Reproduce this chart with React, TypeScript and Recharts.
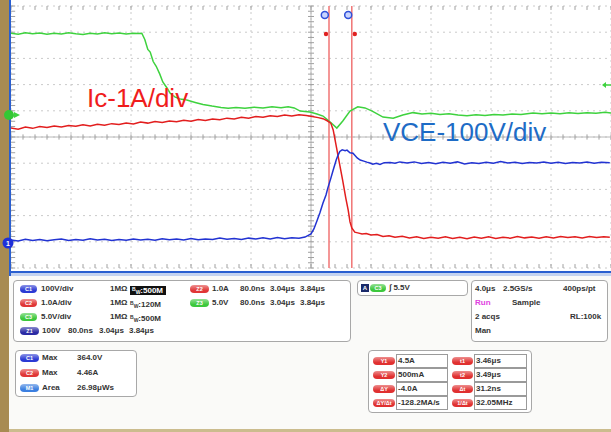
import React from "react";
import { LineChart, Line, XAxis, YAxis, CartesianGrid, ReferenceLine, ReferenceDot } from "recharts";

// screen is 10 x 10 divisions; traces are [time div, level div]
const divsX = [0, 1, 2, 3, 4, 5, 6, 7, 8, 9, 10];
const divsY = [-5, -4, -3, -2, -1, 0, 1, 2, 3, 4, 5];

const greenTrace = [
  [0, 3.96], [0.12, 3.92], [0.24, 3.98], [0.36, 3.94], [0.48, 3.97], [0.6, 3.92], [0.72, 3.96], [0.84, 3.93],
  [0.96, 3.98], [1.08, 3.94], [1.2, 3.91], [1.32, 3.96], [1.44, 3.93], [1.56, 3.98], [1.68, 3.94], [1.8, 3.97],
  [1.92, 3.93], [2.04, 3.96], [2.12, 3.95], [2.18, 3.96], [2.23, 3.72], [2.28, 3.34], [2.32, 3.24], [2.37, 2.88],
  [2.42, 2.7], [2.48, 2.4], [2.53, 2.1], [2.6, 1.87], [2.65, 1.68], [2.73, 1.53], [2.82, 1.45], [2.93, 1.41],
  [3.07, 1.32], [3.2, 1.24], [3.35, 1.18], [3.5, 1.13], [3.62, 1.1], [3.75, 1.13], [3.9, 1.1], [4.05, 1.14],
  [4.2, 1.11], [4.35, 1.15], [4.5, 1.12], [4.62, 1.15], [4.72, 1.11], [4.82, 0.99], [4.98, 0.95], [5.1, 0.88],
  [5.2, 0.8], [5.32, 0.57], [5.43, 0.34], [5.53, 0.61], [5.65, 0.99], [5.78, 1.15], [5.9, 1.11], [6.02, 0.99],
  [6.2, 0.76], [6.37, 0.72], [6.53, 0.84], [6.7, 0.93], [6.85, 0.88], [7.0, 0.91], [7.15, 0.86], [7.3, 0.89],
  [7.45, 0.84], [7.6, 0.81], [7.75, 0.85], [7.9, 0.82], [8.05, 0.86], [8.2, 0.84], [8.35, 0.88], [8.5, 0.86],
  [8.7, 0.92], [8.85, 0.89], [9.0, 0.92], [9.15, 0.89], [9.3, 0.93], [9.45, 0.9], [9.6, 0.93], [9.75, 0.91],
  [9.9, 0.94], [10, 0.92],
];

const redTrace = [
  [0, 0.34], [0.12, 0.3], [0.24, 0.38], [0.36, 0.33], [0.48, 0.4], [0.6, 0.36], [0.72, 0.42], [0.84, 0.38],
  [0.96, 0.44], [1.08, 0.41], [1.2, 0.47], [1.32, 0.42], [1.44, 0.49], [1.56, 0.45], [1.68, 0.51], [1.8, 0.48],
  [1.92, 0.53], [2.04, 0.5], [2.16, 0.57], [2.28, 0.53], [2.4, 0.59], [2.52, 0.55], [2.64, 0.61], [2.76, 0.58],
  [2.88, 0.64], [3.0, 0.6], [3.12, 0.67], [3.24, 0.63], [3.36, 0.69], [3.48, 0.66], [3.6, 0.72], [3.72, 0.69],
  [3.84, 0.75], [3.96, 0.72], [4.08, 0.78], [4.2, 0.75], [4.32, 0.81], [4.44, 0.78], [4.56, 0.84], [4.68, 0.8],
  [4.8, 0.85], [4.92, 0.82], [5.02, 0.78], [5.12, 0.74], [5.2, 0.7], [5.27, 0.62], [5.33, 0.53], [5.37, 0.27],
  [5.42, -0.34], [5.48, -1.07], [5.53, -1.68], [5.58, -2.33], [5.62, -2.79], [5.65, -3.24], [5.68, -3.47],
  [5.73, -3.63], [5.78, -3.66], [5.85, -3.7], [5.92, -3.68], [6.0, -3.74], [6.1, -3.72], [6.2, -3.8], [6.3, -3.77],
  [6.4, -3.83], [6.52, -3.79], [6.64, -3.85], [6.76, -3.81], [6.88, -3.87], [7.0, -3.83], [7.12, -3.86],
  [7.24, -3.81], [7.36, -3.87], [7.48, -3.83], [7.6, -3.88], [7.72, -3.82], [7.84, -3.86], [7.96, -3.81],
  [8.08, -3.87], [8.2, -3.83], [8.32, -3.86], [8.44, -3.8], [8.56, -3.85], [8.68, -3.82], [8.8, -3.86],
  [8.92, -3.81], [9.04, -3.85], [9.16, -3.8], [9.28, -3.84], [9.4, -3.81], [9.52, -3.85], [9.64, -3.8],
  [9.76, -3.84], [9.88, -3.81], [9.98, -3.83],
];

const blueTrace = [
  [0, -3.93], [0.12, -3.97], [0.24, -3.9], [0.36, -3.95], [0.48, -3.91], [0.6, -3.96], [0.72, -3.92], [0.84, -3.89],
  [0.96, -3.95], [1.08, -3.91], [1.2, -3.94], [1.32, -3.88], [1.44, -3.93], [1.56, -3.9], [1.68, -3.95], [1.8, -3.91],
  [1.92, -3.94], [2.04, -3.89], [2.16, -3.93], [2.28, -3.9], [2.4, -3.94], [2.52, -3.88], [2.64, -3.92], [2.76, -3.89],
  [2.88, -3.93], [3.0, -3.87], [3.12, -3.92], [3.24, -3.89], [3.36, -3.91], [3.48, -3.86], [3.6, -3.9], [3.72, -3.87],
  [3.84, -3.91], [3.96, -3.86], [4.08, -3.89], [4.2, -3.85], [4.32, -3.89], [4.44, -3.84], [4.56, -3.88], [4.68, -3.85],
  [4.8, -3.86], [4.9, -3.82], [5.0, -3.7], [5.05, -3.5], [5.1, -3.2], [5.15, -2.88], [5.2, -2.52], [5.25, -2.21],
  [5.28, -1.95], [5.33, -1.58], [5.37, -1.26], [5.42, -0.88], [5.45, -0.7], [5.48, -0.55], [5.52, -0.49],
  [5.57, -0.52], [5.6, -0.5], [5.65, -0.6], [5.7, -0.62], [5.77, -0.8], [5.82, -0.88], [5.88, -0.92], [5.93, -0.96],
  [5.98, -0.99], [6.03, -1.04], [6.09, -1.0], [6.15, -1.05], [6.22, -0.98], [6.32, -0.97], [6.4, -1.0], [6.48, -0.95],
  [6.6, -0.99], [6.72, -0.95], [6.84, -1.01], [6.96, -0.97], [7.08, -1.02], [7.2, -0.96], [7.32, -1.0], [7.44, -0.95],
  [7.56, -1.03], [7.68, -0.98], [7.8, -1.01], [7.92, -0.96], [8.04, -1.0], [8.16, -0.94], [8.28, -0.99], [8.4, -0.96],
  [8.52, -1.01], [8.64, -0.97], [8.76, -0.99], [8.88, -0.95], [9.0, -1.0], [9.12, -0.96], [9.24, -1.01], [9.36, -0.97],
  [9.48, -0.99], [9.6, -0.95], [9.72, -1.0], [9.84, -0.96], [9.98, -0.98],
];

const cursorTimes = [5.3, 5.68];
const cursorHandles = [[5.23, 4.66], [5.62, 4.66]];
const cursorStars = [[5.25, 3.93], [5.73, 3.93]];

const channelRows = [
  { badge: "C1", color: "#2b3ad4", scale: "100V/div", imp: "1MΩ", bw: ":500M" },
  { badge: "C2", color: "#e03636", scale: "1.0A/div", imp: "1MΩ", bw: ":120M" },
  { badge: "C3", color: "#3cc83c", scale: "5.0V/div", imp: "1MΩ", bw: ":500M" },
];
const zoomRows = [
  { badge: "Z2", color: "#e03636", scale: "1.0A", pos: "80.0ns", a: "3.04μs", b: "3.84μs" },
  { badge: "Z3", color: "#3cc83c", scale: "5.0V", pos: "80.0ns", a: "3.04μs", b: "3.84μs" },
];
const zoomMain = { badge: "Z1", color: "#2a2aa4", scale: "100V", pos: "80.0ns", a: "3.04μs", b: "3.84μs" };

const measRows = [
  { badge: "C1", color: "#2b3ad4", label: "Max", value: "364.0V" },
  { badge: "C2", color: "#e03636", label: "Max", value: "4.46A" },
  { badge: "M1", color: "#3b7fe0", label: "Area", value: "26.98μWs" },
];

const cursorRows = [
  ["Y1", "4.5A", "t1", "3.46μs"],
  ["Y2", "500mA", "t2", "3.49μs"],
  ["ΔY", "-4.0A", "Δt", "31.2ns"],
  ["ΔY/Δt", "-128.2MA/s", "1/Δt", "32.05MHz"],
];

const toPts = (arr: number[][]) => arr.map(([t, v]) => ({ t, v }));
const minorX = Array.from({ length: 51 }, (_, i) => +(i * 0.2).toFixed(1));
const minorY = Array.from({ length: 51 }, (_, i) => +(-5 + i * 0.2).toFixed(1));

const FONT = '"Liberation Sans", Arial, sans-serif';
const TICK = "#a0a0a0";

const Badge = ({ x, y, w = 17, color, label }: any) => (
  <div
    style={{
      position: "absolute", left: x, top: y - 4, width: w, height: 8, borderRadius: 4,
      background: `linear-gradient(rgba(255,255,255,0.45), rgba(255,255,255,0) 70%), ${color}`,
      color: "#fff", fontSize: 5.5, lineHeight: "8px", textAlign: "center", fontWeight: 700,
    }}
  >
    {label}
  </div>
);

const T = ({ x, y, children, color = "#333", bold = true }: any) => (
  <div
    style={{
      position: "absolute", left: x, top: y - 5, fontSize: 8, lineHeight: "10px",
      color, fontWeight: bold ? 700 : 400, whiteSpace: "nowrap",
    }}
  >
    {children}
  </div>
);

const Panel = ({ x, y, w, h }: any) => (
  <div
    style={{
      position: "absolute", left: x, top: y, width: w, height: h, boxSizing: "border-box",
      border: "1px solid #a8a8a8", borderRadius: 4, background: "#fff",
    }}
  />
);

const Bw = ({ text, inverted }: any) => (
  <span style={inverted ? { background: "#111", color: "#fff", padding: "0 3px 0 2px" } : {}}>
    <span style={{ fontSize: 5, verticalAlign: 2 }}>B</span>
    <span style={{ fontSize: 5, verticalAlign: -1 }}>W</span>
    {text}
  </span>
);

export default function App() {
  return (
    <div
      style={{
        position: "fixed", left: 0, top: 0, width: 611, height: 432, overflow: "hidden",
        background: "#fafaf8", fontFamily: FONT,
      }}
    >
      <div style={{ position: "absolute", left: 10, top: 0, width: 601, height: 272, background: "#fff" }} />
      <div style={{ position: "absolute", left: 0, top: 0 }}>
        <LineChart width={611} height={275} margin={{ top: 6, right: 0, bottom: 7, left: 11 }}>
          <XAxis type="number" dataKey="t" domain={[0, 10]} ticks={divsX} hide allowDataOverflow />
          <YAxis type="number" dataKey="v" domain={[-5, 5]} ticks={divsY} hide allowDataOverflow />
          <CartesianGrid stroke="#cacaca" strokeDasharray="2 4" />
          <ReferenceLine y={0} stroke="#b8b8b8" />
          <ReferenceLine x={5} stroke="#b8b8b8" />
          {minorX.map((x) => (
            <ReferenceLine key={"tt" + x} segment={[{ x, y: 5 }, { x, y: 4.85 }]} stroke={TICK} />
          ))}
          {minorX.map((x) => (
            <ReferenceLine key={"tb" + x} segment={[{ x, y: -5 }, { x, y: -4.85 }]} stroke={TICK} />
          ))}
          {minorX.map((x) => (
            <ReferenceLine key={"tc" + x} segment={[{ x, y: -0.1 }, { x, y: 0.1 }]} stroke={TICK} />
          ))}
          {minorY.map((y) => (
            <ReferenceLine key={"tl" + y} segment={[{ x: 0, y }, { x: 0.07, y }]} stroke={TICK} />
          ))}
          {minorY.map((y) => (
            <ReferenceLine key={"tm" + y} segment={[{ x: 4.95, y }, { x: 5.05, y }]} stroke={TICK} />
          ))}
          {cursorTimes.map((x) => (
            <ReferenceLine key={"cur" + x} x={x} stroke="#f07474" strokeWidth={1.5} />
          ))}
          <Line data={toPts(greenTrace)} dataKey="v" stroke="#3ed23e" strokeWidth={1.5} dot={false} isAnimationActive={false} />
          <Line data={toPts(redTrace)} dataKey="v" stroke="#e21e1e" strokeWidth={1.5} dot={false} isAnimationActive={false} />
          <Line data={toPts(blueTrace)} dataKey="v" stroke="#2233d2" strokeWidth={1.5} dot={false} isAnimationActive={false} />
          {cursorHandles.map(([x, y]) => (
            <ReferenceDot key={"h" + x} x={x} y={y} r={3.5} fill="#c8d4ff" stroke="#3050d8" strokeWidth={1.5} />
          ))}
          {cursorStars.map(([x, y]) => (
            <ReferenceDot key={"s" + x} x={x} y={y} r={2.2} fill="#e02020" stroke="none" />
          ))}
        </LineChart>
      </div>

      <div style={{ position: "absolute", left: 0, top: 0, width: 9, height: 432, background: "#a88b52" }} />
      <div style={{ position: "absolute", left: 9, top: 0, width: 2, height: 276, background: "#2a5fd0" }} />
      <div style={{ position: "absolute", left: 9, top: 271, width: 602, height: 2, background: "#2a5fd0" }} />
      <div style={{ position: "absolute", left: 11, top: 273, width: 600, height: 3, background: "#c4d3f0" }} />
      <div style={{ position: "absolute", left: 9, top: 429, width: 602, height: 3, background: "#cbbc8e" }} />

      <svg width={611} height={280} style={{ position: "absolute", left: 0, top: 0, pointerEvents: "none" }}>
        <text x={87} y={107} fontSize={26} fill="#f01c1c" fontFamily={FONT}>Ic-1A/div</text>
        <text x={383} y={141} fontSize={26} fill="#1e6cc6" fontFamily={FONT}>VCE-100V/div</text>
        <polygon points="14,112 20,115 14,118" fill="#3ed23e" />
        <circle cx={9} cy={115} r={5} fill="#34c834" />
        <circle cx={8} cy={243} r={5.5} fill="#1f2fd8" />
        <text x={8} y={245.5} fontSize={7} fill="#fff" textAnchor="middle" fontFamily={FONT} fontWeight="bold">1</text>
        <polygon points="602,85 606,82 606,88" fill="#3ed23e" />
        <line x1={606} y1={85} x2={611} y2={85} stroke="#3ed23e" strokeWidth={1.5} />
      </svg>

      <Panel x={13} y={280} w={338} h={62} />
      <Panel x={357} y={280} w={111} h={16} />
      <Panel x={471} y={280} w={137} h={62} />
      <Panel x={15} y={350} w={122} h={47} />
      <Panel x={368} y={350} w={164} h={63} />

      {channelRows.map((r, i) => (
        <React.Fragment key={r.badge}>
          <Badge x={20} y={289 + i * 14} color={r.color} label={r.badge} />
          <T x={41} y={289 + i * 14}>{r.scale}</T>
          <T x={110} y={289 + i * 14}>{r.imp}</T>
          <T x={130} y={289 + i * 14}><Bw text={r.bw} inverted={i === 0} /></T>
        </React.Fragment>
      ))}
      {zoomRows.map((r, i) => (
        <React.Fragment key={r.badge}>
          <Badge x={190} y={289 + i * 14} w={19} color={r.color} label={r.badge} />
          <T x={212} y={289 + i * 14}>{r.scale}</T>
          <T x={240} y={289 + i * 14}>{r.pos}</T>
          <T x={270} y={289 + i * 14}>{r.a}</T>
          <T x={300} y={289 + i * 14}>{r.b}</T>
        </React.Fragment>
      ))}
      <Badge x={20} y={331} w={19} color={zoomMain.color} label={zoomMain.badge} />
      <T x={42} y={331}>{zoomMain.scale}</T>
      <T x={68} y={331}>{zoomMain.pos}</T>
      <T x={99} y={331}>{zoomMain.a}</T>
      <T x={129} y={331}>{zoomMain.b}</T>

      <div style={{ position: "absolute", left: 361, top: 284, width: 8, height: 8, background: "#1a2a6a", color: "#fff", fontSize: 6, lineHeight: "8px", textAlign: "center", fontWeight: 700 }}>A</div>
      <Badge x={370} y={288} w={16} color="#3cc83c" label="C3" />
      <T x={389} y={288}>∫ 5.5V</T>

      <T x={475} y={289}>4.0μs</T>
      <T x={503} y={289}>2.5GS/s</T>
      <T x={563} y={289}>400ps/pt</T>
      <T x={475} y={303} color="#e040e0">Run</T>
      <T x={512} y={303}>Sample</T>
      <T x={475} y={317}>2 acqs</T>
      <T x={570} y={317}>RL:100k</T>
      <T x={475} y={331}>Man</T>

      {measRows.map((r, i) => (
        <React.Fragment key={r.label + i}>
          <Badge x={20} y={358 + i * 15} w={19} color={r.color} label={r.badge} />
          <T x={42} y={358 + i * 15}>{r.label}</T>
          <T x={77} y={358 + i * 15}>{r.value}</T>
        </React.Fragment>
      ))}

      {cursorRows.map((r, i) => (
        <React.Fragment key={r[0]}>
          <div style={{ position: "absolute", left: 396, top: 354 + i * 14, width: 52, height: 14, boxSizing: "border-box", border: "1px solid #9a9a9a", background: "#fff" }} />
          <div style={{ position: "absolute", left: 474, top: 354 + i * 14, width: 53, height: 14, boxSizing: "border-box", border: "1px solid #9a9a9a", background: "#fff" }} />
          <Badge x={373} y={361 + i * 14} w={22} color="#e03030" label={r[0]} />
          <T x={398} y={361 + i * 14}>{r[1]}</T>
          <Badge x={452} y={361 + i * 14} w={21} color="#e03030" label={r[2]} />
          <T x={476} y={361 + i * 14}>{r[3]}</T>
        </React.Fragment>
      ))}
    </div>
  );
}
